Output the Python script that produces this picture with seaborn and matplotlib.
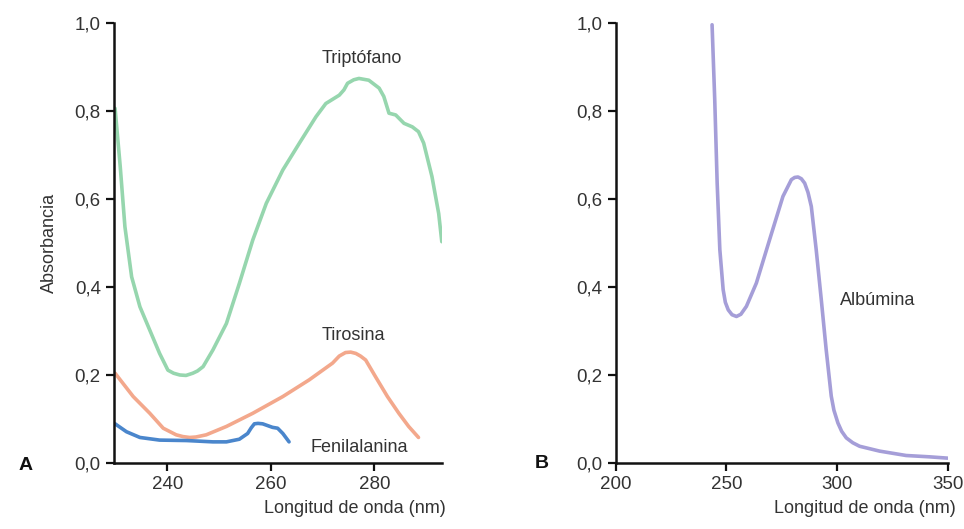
import numpy as np
import pandas as pd
import seaborn as sns
import matplotlib.pyplot as plt

# Panel A: spectra of the aromatic amino acids
trp_x = [229.9, 230.9, 231.8, 233.1, 234.7, 236.6, 238.5, 240.1, 241.2, 242.4, 243.6, 244.9,
         245.8, 246.9, 248.8, 251.4, 253.9, 256.5, 259.1, 262.3, 265.5, 268.7, 270.6, 273.2,
         274.1, 274.8, 276.0, 277.0, 278.9, 280.9, 281.8, 282.8, 284.1, 285.7, 287.3, 288.5,
         289.5, 291.1, 292.4, 293.0]
trp_y = [0.806, 0.673, 0.537, 0.423, 0.355, 0.302, 0.249, 0.211, 0.204, 0.200, 0.199, 0.204,
         0.209, 0.219, 0.257, 0.317, 0.408, 0.507, 0.590, 0.666, 0.727, 0.787, 0.817, 0.836,
         0.848, 0.863, 0.871, 0.874, 0.870, 0.852, 0.833, 0.795, 0.791, 0.772, 0.764, 0.753,
         0.727, 0.651, 0.567, 0.503]

tyr_x = [229.9, 233.4, 236.6, 239.2, 241.7, 243.0, 244.3, 245.5, 247.5, 251.4, 256.5, 262.3,
         267.4, 271.9, 273.2, 274.4, 275.4, 276.4, 277.3, 278.3, 280.2, 282.5, 284.7, 286.6,
         288.5]
tyr_y = [0.204, 0.151, 0.113, 0.079, 0.064, 0.060, 0.058, 0.059, 0.064, 0.083, 0.113, 0.151,
         0.189, 0.227, 0.243, 0.251, 0.252, 0.249, 0.243, 0.234, 0.196, 0.151, 0.113, 0.083,
         0.058]

phe_x = [229.9, 232.1, 234.7, 238.5, 243.7, 248.8, 251.4, 253.9, 255.5, 256.2, 256.8, 257.5,
         258.4, 260.3, 261.3, 262.3, 263.5]
phe_y = [0.089, 0.071, 0.058, 0.052, 0.051, 0.048, 0.048, 0.054, 0.067, 0.080, 0.089, 0.090,
         0.089, 0.081, 0.079, 0.067, 0.048]

# Panel B: albumin
alb_x = [243.5, 244.7, 245.8, 247.0, 248.5, 249.5, 250.8, 252.5, 254.5, 256.5, 259.0, 263.5,
         269.5, 275.5, 279.3, 280.8, 282.3, 283.8, 285.3, 286.8, 288.3, 290.5, 292.8, 295.0,
         297.3, 298.5, 300.3, 302.0, 304.1, 307.0, 310.1, 319.1, 331.1, 341.6, 349.8]
alb_y = [0.996, 0.826, 0.636, 0.485, 0.394, 0.365, 0.348, 0.337, 0.333, 0.338, 0.356, 0.409,
         0.508, 0.606, 0.644, 0.649, 0.650, 0.646, 0.636, 0.615, 0.583, 0.485, 0.371, 0.258,
         0.152, 0.120, 0.091, 0.072, 0.057, 0.046, 0.038, 0.027, 0.017, 0.014, 0.011]

y_ticks = [0.0, 0.2, 0.4, 0.6, 0.8, 1.0]
y_ticklabels = ["0,0", "0,2", "0,4", "0,6", "0,8", "1,0"]
a_xticks = [240, 260, 280]
b_xticks = [200, 250, 300, 350]

sns.set_style("ticks")
plt.rcParams['font.family'] = ['Liberation Sans', 'DejaVu Sans']
txt = "#333333"

fig = plt.figure(figsize=(9.64, 5.29), dpi=100)
ax1 = fig.add_axes([0.1183, 0.1248, 0.340, 0.8317])
ax2 = fig.add_axes([0.6387, 0.1248, 0.3447, 0.8317])

series = [("Triptófano", trp_x, trp_y, "#96d6ae"),
          ("Tirosina", tyr_x, tyr_y, "#f3a88c"),
          ("Fenilalanina", phe_x, phe_y, "#4a86cc")]
for name, xs, ys, c in series:
    df = pd.DataFrame({"x": xs, "y": ys})
    sns.lineplot(data=df, x="x", y="y", ax=ax1, color=c, lw=2.6, sort=False)

df_alb = pd.DataFrame({"x": alb_x, "y": alb_y})
sns.lineplot(data=df_alb, x="x", y="y", ax=ax2, color="#a59ed8", lw=2.6, sort=False)

ax1.set_xlim(229.7, 293)
ax2.set_xlim(200, 350)
ax1.set_xticks(a_xticks)
ax2.set_xticks(b_xticks)

for ax in (ax1, ax2):
    ax.set_ylim(0, 1.0)
    ax.set_yticks(y_ticks)
    ax.set_yticklabels(y_ticklabels)
    for s in ("top", "right"):
        ax.spines[s].set_visible(False)
    for s in ("left", "bottom"):
        ax.spines[s].set_linewidth(1.8)
        ax.spines[s].set_color("#111111")
    ax.tick_params(axis="both", length=6, width=1.6, labelsize=13.5, labelcolor=txt, color="#111111")
    ax.set_xlabel("")
    ax.set_ylabel("")

ax1.set_ylabel("Absorbancia", fontsize=13, color=txt, labelpad=12)

fig.text(0.4585 + 0.004, 0.03, "Longitud de onda (nm)", ha="right", va="baseline", fontsize=13, color=txt)
fig.text(0.991, 0.03, "Longitud de onda (nm)", ha="right", va="baseline", fontsize=13, color=txt)

ax1.text(277.6, 0.92, "Triptófano", ha="center", va="center", fontsize=13, color=txt)
ax1.text(275.9, 0.29, "Tirosina", ha="center", va="center", fontsize=13, color=txt)
ax1.text(277.0, 0.036, "Fenilalanina", ha="center", va="center", fontsize=13, color=txt)
ax2.text(318.2, 0.37, "Albúmina", ha="center", va="center", fontsize=13, color=txt)

fig.text(0.019, 0.12, "A", fontsize=14, fontweight="bold", color="#111111", va="center")
fig.text(0.555, 0.124, "B", fontsize=14, fontweight="bold", color="#111111", va="center")

fig.savefig("out.png", dpi=100, facecolor="white")
